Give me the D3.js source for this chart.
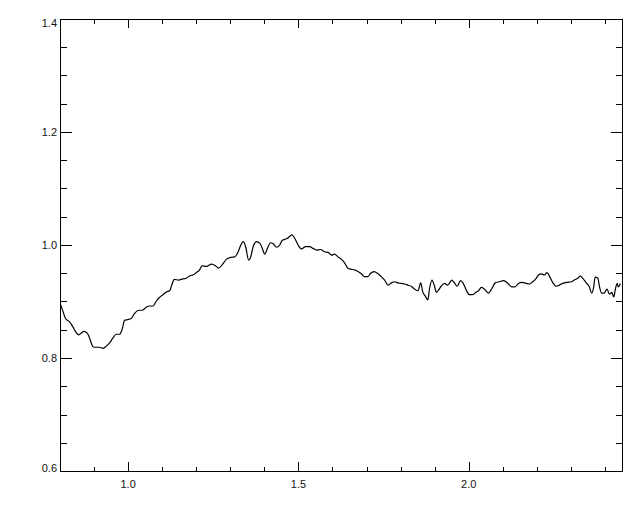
<!DOCTYPE html>
<html><head><meta charset="utf-8">
<script src="https://cdn.jsdelivr.net/npm/d3@7"></script>
<style>html,body{margin:0;padding:0;background:#fff;}svg{display:block;}</style>
</head><body>
<svg id="chart" width="640" height="512"></svg>
<script>
const xValues = [0.802,0.809,0.816,0.828,0.838,0.845,0.855,0.862,0.870,0.880,0.887,0.897,0.906,0.916,0.926,0.936,0.946,0.955,0.965,0.975,0.982,0.990,0.999,1.009,1.019,1.029,1.043,1.053,1.063,1.073,1.082,1.092,1.102,1.112,1.122,1.128,1.136,1.148,1.161,1.170,1.180,1.190,1.200,1.210,1.217,1.230,1.245,1.257,1.266,1.276,1.289,1.301,1.313,1.323,1.331,1.338,1.345,1.354,1.360,1.367,1.377,1.387,1.394,1.401,1.409,1.418,1.426,1.436,1.445,1.452,1.460,1.468,1.474,1.481,1.489,1.499,1.509,1.521,1.533,1.543,1.553,1.565,1.577,1.587,1.597,1.606,1.616,1.626,1.636,1.645,1.655,1.665,1.675,1.685,1.694,1.704,1.712,1.722,1.732,1.743,1.753,1.763,1.773,1.782,1.792,1.802,1.812,1.821,1.831,1.841,1.851,1.859,1.865,1.872,1.880,1.885,1.892,1.900,1.905,1.911,1.919,1.929,1.937,1.944,1.950,1.958,1.966,1.976,1.983,1.993,2.002,2.012,2.022,2.029,2.037,2.046,2.058,2.068,2.078,2.090,2.103,2.115,2.126,2.136,2.146,2.156,2.169,2.178,2.188,2.198,2.205,2.213,2.222,2.230,2.237,2.247,2.257,2.266,2.276,2.289,2.301,2.310,2.320,2.328,2.335,2.345,2.354,2.361,2.367,2.371,2.379,2.384,2.390,2.398,2.406,2.413,2.420,2.426,2.430,2.436,2.439,2.445];
const yValues = [0.894,0.882,0.870,0.864,0.855,0.847,0.841,0.844,0.847,0.844,0.835,0.820,0.819,0.819,0.817,0.821,0.827,0.835,0.842,0.842,0.850,0.867,0.868,0.870,0.879,0.884,0.885,0.890,0.892,0.892,0.900,0.907,0.912,0.917,0.919,0.929,0.939,0.938,0.940,0.941,0.945,0.947,0.951,0.956,0.963,0.962,0.966,0.963,0.959,0.965,0.975,0.978,0.979,0.988,1.000,1.006,0.997,0.973,0.979,0.997,1.006,1.003,0.994,0.984,0.994,1.004,1.002,0.996,1.000,1.008,1.010,1.012,1.015,1.018,1.012,1.000,0.993,0.997,0.997,0.994,0.991,0.992,0.988,0.987,0.982,0.984,0.979,0.975,0.968,0.959,0.957,0.956,0.953,0.949,0.944,0.944,0.950,0.953,0.950,0.944,0.938,0.929,0.933,0.935,0.933,0.932,0.931,0.929,0.927,0.922,0.919,0.933,0.917,0.910,0.903,0.923,0.938,0.926,0.916,0.920,0.927,0.932,0.929,0.933,0.938,0.933,0.927,0.937,0.933,0.920,0.912,0.912,0.917,0.919,0.925,0.922,0.915,0.923,0.933,0.935,0.937,0.932,0.926,0.926,0.932,0.934,0.932,0.931,0.935,0.941,0.947,0.949,0.947,0.951,0.945,0.933,0.927,0.929,0.932,0.934,0.935,0.938,0.941,0.945,0.941,0.933,0.926,0.915,0.926,0.943,0.941,0.926,0.915,0.915,0.922,0.913,0.916,0.908,0.920,0.932,0.926,0.932];
const xMajorTicks = [1.0, 1.5, 2.0];
const xTickLabels = ["1.0", "1.5", "2.0"];
const yMajorTicks = [0.6, 0.8, 1.0, 1.2, 1.4];
const yTickLabels = ["0.6", "0.8", "1.0", "1.2", "1.4"];
const xDomain = [0.8, 2.45];
const yDomain = [0.6, 1.4];

const svg = d3.select("#chart");
const L = 60, R = 622, T = 19, B = 471;
const x = d3.scaleLinear().domain(xDomain).range([L, R]);
const y = d3.scaleLinear().domain(yDomain).range([B, T]);

const xMinor = d3.range(8, 25).map(d => d / 10).filter(v => v >= xDomain[0] && v <= xDomain[1] && !xMajorTicks.some(m => Math.abs(m - v) < 1e-9));
const yMinor = d3.range(12, 29).map(d => d / 20).filter(v => !yMajorTicks.some(m => Math.abs(m - v) < 1e-9));

const g = svg.append("g").attr("stroke", "#000").attr("stroke-width", 1).attr("shape-rendering", "crispEdges");
g.append("rect").attr("x", L).attr("y", T).attr("width", R - L).attr("height", B - T).attr("fill", "none");
xMajorTicks.forEach(v => {
  const px = Math.round(x(v)) + 0.5;
  g.append("line").attr("x1", px).attr("x2", px).attr("y1", B).attr("y2", B - 9);
  g.append("line").attr("x1", px).attr("x2", px).attr("y1", T).attr("y2", T + 9);
});
xMinor.forEach(v => {
  const px = Math.round(x(v)) + 0.5;
  g.append("line").attr("x1", px).attr("x2", px).attr("y1", B).attr("y2", B - 4.5);
  g.append("line").attr("x1", px).attr("x2", px).attr("y1", T).attr("y2", T + 4.5);
});
yMajorTicks.forEach(v => {
  const py = Math.round(y(v)) + 0.5;
  g.append("line").attr("x1", L).attr("x2", L + 11.5).attr("y1", py).attr("y2", py);
  g.append("line").attr("x1", R).attr("x2", R - 11.5).attr("y1", py).attr("y2", py);
});
yMinor.forEach(v => {
  const py = Math.round(y(v)) + 0.5;
  g.append("line").attr("x1", L).attr("x2", L + 6.5).attr("y1", py).attr("y2", py);
  g.append("line").attr("x1", R).attr("x2", R - 6.5).attr("y1", py).attr("y2", py);
});

const font = "'Liberation Sans', Arial, sans-serif";
xMajorTicks.forEach((v, i) => {
  svg.append("text").attr("x", x(v)).attr("y", 487.5).attr("text-anchor", "middle")
    .attr("font-family", font).attr("font-size", 11).attr("fill", "#111").text(xTickLabels[i]);
});
yMajorTicks.forEach((v, i) => {
  const by = Math.max(T + 8, Math.min(B + 1, y(v) + 4));
  svg.append("text").attr("x", 57).attr("y", by).attr("text-anchor", "end")
    .attr("font-family", font).attr("font-size", 11).attr("fill", "#111").text(yTickLabels[i]);
});

svg.append("clipPath").attr("id", "clip").append("rect").attr("x", L).attr("y", T).attr("width", R - L).attr("height", B - T);
const data = xValues.map((xv, i) => [xv, yValues[i]]);
svg.append("path").datum(data).attr("clip-path", "url(#clip)")
  .attr("fill", "none").attr("stroke", "#000").attr("stroke-width", 1.2)
  .attr("d", d3.line().curve(d3.curveMonotoneX).x(d => x(d[0])).y(d => y(d[1])));
</script>
</body></html>
